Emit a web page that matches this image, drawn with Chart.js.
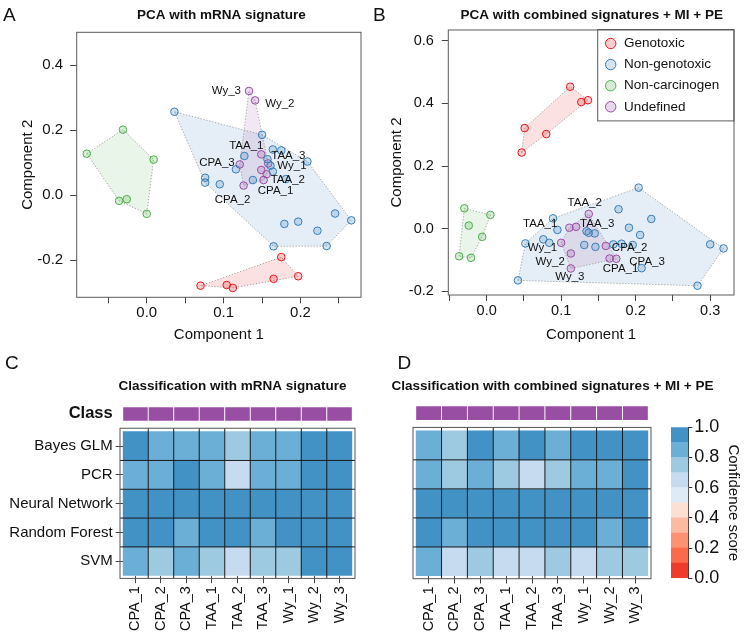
<!DOCTYPE html>
<html>
<head>
<meta charset="utf-8">
<title>PCA and classification of undefined compounds</title>
<script src="https://cdn.jsdelivr.net/npm/chart.js@4.4.1/dist/chart.umd.min.js"></script>
<style>
  html, body { margin: 0; padding: 0; background: #fff; }
  #page { position: relative; width: 745px; height: 636px; overflow: hidden; }
  .panel { position: absolute; }
  .panel canvas { display: block; }
</style>
</head>
<body>
<div id="page">
  <div class="panel" style="left:0;top:0"><canvas id="pcaA" width="372" height="350"></canvas></div>
  <div class="panel" style="left:372px;top:0"><canvas id="pcaB" width="373" height="350"></canvas></div>
  <div class="panel" style="left:0;top:350px"><canvas id="heatC" width="372" height="286"></canvas></div>
  <div class="panel" style="left:372px;top:350px"><canvas id="heatD" width="373" height="286"></canvas></div>
  <div class="panel" style="left:650px;top:350px"><canvas id="colorbar" width="95" height="286"></canvas></div>
</div>
<script>
// Compound groups
const groupNames = ['Genotoxic', 'Non-genotoxic', 'Non-carcinogen', 'Undefined'];
const groupColors = ['#E41A1C', '#377EB8', '#4DAF4A', '#984EA3'];

// Undefined samples (labelled on the PCA plots, columns of the heatmaps)
const sampleNames = ['CPA_1', 'CPA_2', 'CPA_3', 'TAA_1', 'TAA_2', 'TAA_3', 'Wy_1', 'Wy_2', 'Wy_3'];
const sampleClass = ['Undefined', 'Undefined', 'Undefined', 'Undefined', 'Undefined',
                     'Undefined', 'Undefined', 'Undefined', 'Undefined'];

// PCA with mRNA signature: [Component 1, Component 2]
const genotoxicA = [[0.070, -0.278], [0.104, -0.276], [0.112, -0.285], [0.175, -0.190],
                    [0.165, -0.257], [0.197, -0.249]];
const nonGenotoxicA = [[0.036, 0.257], [0.150, 0.186], [0.127, 0.121], [0.116, 0.080],
                       [0.076, 0.054], [0.076, 0.039], [0.095, 0.034], [0.138, 0.047],
                       [0.164, 0.141], [0.175, 0.138], [0.157, 0.111], [0.161, 0.091],
                       [0.164, 0.073], [0.181, 0.050], [0.209, 0.104], [0.245, -0.056],
                       [0.266, -0.077], [0.197, -0.081], [0.179, -0.088], [0.222, -0.109],
                       [0.165, -0.157], [0.234, -0.156]];
const nonCarcinogenA = [[-0.078, 0.128], [-0.031, 0.202], [0.009, 0.110], [-0.036, -0.017],
                        [-0.026, -0.012], [0.000, -0.057]];
const undefinedA = [[0.152, 0.047], [0.126, 0.030], [0.121, 0.095], [0.149, 0.126], [0.156, 0.065],
                    [0.158, 0.098], [0.149, 0.078], [0.141, 0.292], [0.133, 0.321]];

// PCA with combined signatures + MI + PE
const genotoxicB = [[0.112, 0.453], [0.127, 0.404], [0.136, 0.410], [0.051, 0.321],
                    [0.080, 0.302], [0.047, 0.243]];
const nonGenotoxicB = [[0.204, 0.131], [0.177, 0.062], [0.221, 0.031], [0.191, 0.003],
                       [0.206, -0.020], [0.300, -0.050], [0.318, -0.063], [0.283, -0.182],
                       [0.208, -0.126], [0.089, 0.033], [0.095, -0.004], [0.052, -0.047],
                       [0.076, -0.034], [0.084, -0.045], [0.042, -0.165], [0.134, -0.008],
                       [0.137, -0.013], [0.145, -0.015], [0.131, -0.052], [0.146, -0.058],
                       [0.170, -0.050], [0.181, -0.048], [0.196, -0.052]];
const nonCarcinogenB = [[-0.030, 0.065], [0.005, 0.044], [-0.024, 0.010], [-0.006, -0.026],
                        [-0.037, -0.088], [-0.021, -0.093]];
const undefinedB = [[0.165, -0.095], [0.160, -0.055], [0.174, -0.096], [0.111, 0.003], [0.137, 0.047],
                    [0.120, 0.006], [0.100, -0.045], [0.113, -0.079], [0.113, -0.127]];

// Axis ticks
const xTicksA = [-0.05, 0, 0.05, 0.1, 0.15, 0.2, 0.25];
const xLabelsA = [0, 0.1, 0.2];
const yTicksA = [-0.2, 0, 0.2, 0.4];
const xTicksB = [-0.05, 0, 0.05, 0.1, 0.15, 0.2, 0.25, 0.3];
const xLabelsB = [0, 0.1, 0.2, 0.3];
const yTicksB = [-0.2, 0, 0.2, 0.4, 0.6];

// Classification confidence scores (rows = methods, columns = samples)
const methods = ['Bayes GLM', 'PCR', 'Neural Network', 'Random Forest', 'SVM'];
const bayesC  = [0.94, 0.86, 0.87, 0.86, 0.76, 0.85, 0.84, 0.95, 0.94];
const pcrC    = [0.85, 0.86, 0.93, 0.85, 0.66, 0.86, 0.84, 0.94, 0.94];
const nnC     = [0.97, 0.96, 0.96, 0.97, 0.96, 0.96, 0.97, 0.98, 0.97];
const rfC     = [0.95, 0.93, 0.84, 0.94, 0.92, 0.86, 0.93, 0.95, 0.94];
const svmC    = [0.84, 0.75, 0.83, 0.76, 0.66, 0.74, 0.75, 0.93, 0.94];
const bayesD  = [0.86, 0.77, 0.94, 0.85, 0.93, 0.84, 0.93, 0.95, 0.94];
const pcrD    = [0.84, 0.76, 0.85, 0.76, 0.65, 0.77, 0.84, 0.83, 0.93];
const nnD     = [0.97, 0.96, 0.96, 0.97, 0.96, 0.96, 0.97, 0.97, 0.97];
const rfD     = [0.94, 0.86, 0.93, 0.95, 0.94, 0.93, 0.92, 0.85, 0.94];
const svmD    = [0.83, 0.66, 0.74, 0.65, 0.66, 0.76, 0.64, 0.75, 0.76];

// Colour scale of the confidence score
const scoreBins = [0, 0.1, 0.2, 0.3, 0.4, 0.5, 0.6, 0.7, 0.8, 0.9, 1.0];
const binColors = ['#EF3B2C', '#FB6A4A', '#FC9272', '#FCBBA1', '#FEE0D2',
                   '#DEEBF7', '#C6DBEF', '#9ECAE1', '#6BAED6', '#4292C6'];
const colorbarTicks = [0, 0.2, 0.4, 0.6, 0.8, 1.0];

// Layout: class strip sits above the score rows
const classBand = [5.375, 5.865];

const FONT = "'Liberation Sans', Arial, sans-serif";
Chart.defaults.font.family = FONT;
Chart.defaults.color = '#111';

function alpha(hex, a) {
  const n = parseInt(hex.slice(1), 16);
  return `rgba(${n >> 16}, ${(n >> 8) & 255}, ${n & 255}, ${a})`;
}

function scoreColor(s) {
  for (let i = 0; i < binColors.length; i++) {
    if (s < scoreBins[i + 1]) return binColors[i];
  }
  return binColors[binColors.length - 1];
}

// Convex hull (monotone chain) of pixel points
function convexHull(pts) {
  const p = pts.slice().sort((a, b) => a.x - b.x || a.y - b.y);
  if (p.length < 3) return p;
  const cross = (o, a, b) => (a.x - o.x) * (b.y - o.y) - (a.y - o.y) * (b.x - o.x);
  const lower = [];
  for (const q of p) {
    while (lower.length >= 2 && cross(lower[lower.length - 2], lower[lower.length - 1], q) <= 0) lower.pop();
    lower.push(q);
  }
  const upper = [];
  for (let i = p.length - 1; i >= 0; i--) {
    const q = p[i];
    while (upper.length >= 2 && cross(upper[upper.length - 2], upper[upper.length - 1], q) <= 0) upper.pop();
    upper.push(q);
  }
  lower.pop();
  upper.pop();
  return lower.concat(upper);
}

// Shaded hull behind each group
const hullPlugin = {
  id: 'hulls',
  beforeDatasetsDraw(chart) {
    const ctx = chart.ctx;
    ctx.save();
    chart.data.datasets.forEach((ds, i) => {
      const hull = convexHull(chart.getDatasetMeta(i).data.map(p => ({ x: p.x, y: p.y })));
      ctx.beginPath();
      hull.forEach((q, k) => (k ? ctx.lineTo(q.x, q.y) : ctx.moveTo(q.x, q.y)));
      ctx.closePath();
      ctx.fillStyle = ds.hullColor;
      ctx.fill();
      ctx.setLineDash([1.2, 1.8]);
      ctx.strokeStyle = '#9a9a9a';
      ctx.lineWidth = 0.9;
      ctx.stroke();
    });
    ctx.restore();
  }
};

// Names next to the undefined samples
function pointLabels(offsets) {
  return {
    id: 'pointLabels',
    afterDatasetsDraw(chart) {
      const ctx = chart.ctx;
      const pts = chart.getDatasetMeta(3).data;
      ctx.save();
      ctx.font = `11.5px ${FONT}`;
      ctx.fillStyle = '#111';
      ctx.textBaseline = 'middle';
      pts.forEach((p, i) => {
        const [dx, dy, align] = offsets[i];
        ctx.textAlign = align;
        ctx.fillText(sampleNames[i], p.x + dx, p.y + dy);
      });
      ctx.restore();
    }
  };
}

// Panel letters, titles and plot frame
function decor(texts, frame) {
  return {
    id: 'decor',
    afterDraw(chart) {
      const ctx = chart.ctx;
      const a = chart.chartArea;
      ctx.save();
      if (frame) {
        ctx.strokeStyle = '#5a5a5a';
        ctx.lineWidth = 1;
        ctx.strokeRect(a.left, a.top, a.right - a.left, a.bottom - a.top);
      }
      texts.forEach(t => {
        ctx.font = t.font;
        ctx.textAlign = t.align || 'center';
        ctx.textBaseline = 'middle';
        ctx.fillStyle = '#111';
        ctx.fillText(t.text, t.x, t.y);
      });
      ctx.restore();
    }
  };
}

// Legend box in the top right corner of panel B
const groupLegend = {
  id: 'groupLegend',
  afterDatasetsDraw(chart) {
    const ctx = chart.ctx;
    const a = chart.chartArea;
    const w = 136.3, h = 91.4;
    const x0 = a.right - w, y0 = a.top - 0.5;
    ctx.save();
    ctx.fillStyle = '#fff';
    ctx.fillRect(x0, y0, w, h);
    ctx.strokeStyle = '#5a5a5a';
    ctx.lineWidth = 1;
    ctx.strokeRect(x0, y0, w, h);
    ctx.font = `13.5px ${FONT}`;
    ctx.textAlign = 'left';
    ctx.textBaseline = 'middle';
    chart.data.datasets.forEach((ds, i) => {
      const cy = y0 + 14 + i * 21.1;
      ctx.beginPath();
      ctx.arc(x0 + 13, cy, 5.2, 0, Math.PI * 2);
      ctx.fillStyle = ds.backgroundColor;
      ctx.fill();
      ctx.strokeStyle = ds.borderColor;
      ctx.stroke();
      ctx.fillStyle = '#111';
      ctx.fillText(ds.label, x0 + 26.3, cy);
    });
    ctx.restore();
  }
};

function pcaChart(id, groups, cfg) {
  return new Chart(document.getElementById(id), {
    type: 'scatter',
    data: {
      datasets: groups.map((pts, i) => ({
        label: groupNames[i],
        data: pts.map(p => ({ x: p[0], y: p[1] })),
        pointRadius: 3.8,
        pointHoverRadius: 3.8,
        borderWidth: 1,
        borderColor: groupColors[i],
        backgroundColor: alpha(groupColors[i], 0.22),
        hullColor: alpha(groupColors[i], 0.13)
      }))
    },
    options: {
      responsive: false,
      animation: false,
      events: [],
      layout: { padding: cfg.padding },
      plugins: { legend: { display: false }, tooltip: { enabled: false } },
      scales: {
        x: {
          type: 'linear', min: cfg.x[0], max: cfg.x[1],
          afterBuildTicks: s => { s.ticks = cfg.xTicks.map(v => ({ value: v })); },
          afterFit: s => { s.height = cfg.xh; },
          ticks: {
            autoSkip: false, maxRotation: 0, padding: 1, color: '#111',
            font: { size: cfg.tickSize },
            callback: v => (cfg.xLabels.some(l => Math.abs(l - v) < 1e-9) ? v.toFixed(1) : '')
          },
          grid: { drawOnChartArea: false, tickLength: 6, tickColor: '#444' },
          border: { display: false },
          title: { display: true, text: 'Component 1', color: '#111', font: { size: 15 }, padding: { top: 0, bottom: 6 } }
        },
        y: {
          type: 'linear', min: cfg.y[0], max: cfg.y[1],
          afterBuildTicks: s => { s.ticks = cfg.yTicks.map(v => ({ value: v })); },
          afterFit: s => { s.width = cfg.yw; },
          ticks: { padding: cfg.yPad, color: '#111', font: { size: cfg.tickSize }, callback: v => v.toFixed(1) },
          grid: { drawOnChartArea: false, tickLength: 6.5, tickColor: '#444' },
          border: { display: false },
          title: { display: true, text: 'Component 2', color: '#111', font: { size: 15 }, padding: { top: cfg.yTitlePad, bottom: 0 } }
        }
      }
    },
    plugins: cfg.plugins
  });
}

// Panel A
pcaChart('pcaA', [genotoxicA, nonGenotoxicA, nonCarcinogenA, undefinedA], {
  padding: { left: 0, top: 32.3, right: 11, bottom: 0 },
  x: [-0.0911, 0.2787], y: [-0.3138, 0.5015],
  xTicks: xTicksA, xLabels: xLabelsA, yTicks: yTicksA,
  xh: 52.7, yw: 76.7, yPad: 7, yTitlePad: 19, tickSize: 15,
  plugins: [hullPlugin,
    pointLabels([[12, 11, 'center'], [-11, 14.5, 'center'], [-5, -2, 'right'], [-15, -9, 'center'], [4, 6, 'left'],
                 [3, -8, 'left'], [16, -4, 'left'], [10, 3, 'left'], [-8, 0, 'right']]),
    decor([
      { text: 'A', x: 3, y: 16, font: `19px ${FONT}`, align: 'left' },
      { text: 'PCA with mRNA signature', x: 221.3, y: 15, font: `bold 13.5px ${FONT}` }
    ], true)]
});

// Panel B
pcaChart('pcaB', [genotoxicB, nonGenotoxicB, nonCarcinogenB, undefinedB], {
  padding: { left: 0, top: 30, right: 11, bottom: 0 },
  x: [-0.0515, 0.332], y: [-0.2116, 0.634],
  xTicks: xTicksB, xLabels: xLabelsB, yTicks: yTicksB,
  xh: 55, yw: 76.3, yPad: 8, yTitlePad: 16, tickSize: 14.5,
  plugins: [hullPlugin,
    pointLabels([[11, 10.5, 'center'], [6, 2, 'left'], [13, 3.5, 'left'], [-12, -4, 'right'], [-4, -11, 'center'],
                 [4, -3, 'left'], [-4, 5, 'right'], [-6, 8.5, 'right'], [-1, 8.5, 'center']]),
    groupLegend,
    decor([
      { text: 'B', x: 1, y: 16, font: `19px ${FONT}`, align: 'left' },
      { text: 'PCA with combined signatures + MI + PE', x: 219.7, y: 15, font: `bold 13.5px ${FONT}` }
    ], true)]
});

// Black cell borders and grey frame of a heatmap
function heatGrid() {
  return {
    id: 'heatGrid',
    afterDatasetsDraw(chart) {
      const { ctx, chartArea: a, scales: { x, y } } = chart;
      const top = y.getPixelForValue(methods.length), bottom = y.getPixelForValue(0);
      const bx0 = a.left - 2.7, bx1 = a.right + 2.7, by0 = top - 3.4, by1 = bottom + 2.7;
      ctx.save();
      ctx.strokeStyle = '#1b1b1b';
      ctx.lineWidth = 1;
      ctx.beginPath();
      for (let i = 1; i < sampleNames.length; i++) {
        const px = (x.getPixelForValue(i - 1) + x.getPixelForValue(i)) / 2;
        ctx.moveTo(px, by0);
        ctx.lineTo(px, by1);
      }
      for (let k = 1; k < methods.length; k++) {
        const py = y.getPixelForValue(k);
        ctx.moveTo(bx0, py);
        ctx.lineTo(bx1, py);
      }
      ctx.stroke();
      ctx.strokeStyle = '#555';
      ctx.strokeRect(bx0, by0, bx1 - bx0, by1 - by0);
      ctx.restore();
    }
  };
}

function heatChart(id, rows, cfg) {
  const n = methods.length;
  const datasets = rows.map((scores, r) => ({
    label: methods[r],
    data: scores.map(() => [n - 1 - r, n - r]),
    backgroundColor: scores.map(scoreColor),
    borderWidth: 0,
    grouped: false, barPercentage: 1, categoryPercentage: 1
  }));
  datasets.push({
    label: 'Class',
    data: sampleClass.map(() => classBand),
    backgroundColor: sampleClass.map(c => groupColors[groupNames.indexOf(c)]),
    borderColor: 'rgba(255, 255, 255, 0.75)',
    borderWidth: 0.8,
    grouped: false, barPercentage: 1, categoryPercentage: 1
  });
  return new Chart(document.getElementById(id), {
    type: 'bar',
    data: { labels: sampleNames, datasets },
    options: {
      responsive: false,
      animation: false,
      events: [],
      layout: { padding: cfg.padding },
      plugins: { legend: { display: false }, tooltip: { enabled: false } },
      scales: {
        x: {
          type: 'category', offset: true,
          afterFit: s => { s.height = cfg.xh; },
          ticks: { autoSkip: false, minRotation: 90, maxRotation: 90, padding: 3, color: '#111', font: { size: 14.5 } },
          grid: { offset: false, drawOnChartArea: false, tickLength: 7.5, tickColor: '#444' },
          border: { display: false }
        },
        y: {
          type: 'linear', min: 0, max: classBand[1], display: cfg.showRows,
          afterBuildTicks: s => {
            s.ticks = methods.map((m, r) => ({ value: n - 0.5 - r }))
              .concat([{ value: (classBand[0] + classBand[1]) / 2 }]);
          },
          afterFit: s => { s.width = cfg.yw; },
          ticks: {
            padding: 3, color: '#111',
            font: c => (c.tick && c.tick.value > n ? { size: 16.5, weight: 'bold' } : { size: 15 }),
            callback: v => (v > n ? 'Class' : methods[Math.floor(n - v)])
          },
          grid: {
            drawOnChartArea: false, tickLength: 7,
            tickColor: c => (c.tick && c.tick.value > n ? 'rgba(0,0,0,0)' : '#444')
          },
          border: { display: false }
        }
      }
    },
    plugins: [heatGrid(), decor(cfg.texts, false)]
  });
}

// Panel C
heatChart('heatC', [bayesC, pcrC, nnC, rfC, svmC], {
  padding: { left: 0, top: 56.7, right: 19.7, bottom: 0 },
  xh: 60.3, yw: 122.7, showRows: true,
  texts: [
    { text: 'C', x: 5, y: 13.5, font: `19px ${FONT}`, align: 'left' },
    { text: 'Classification with mRNA signature', x: 232.5, y: 36.7, font: `bold 13.5px ${FONT}` }
  ]
});

// Panel D
heatChart('heatD', [bayesD, pcrD, nnD, rfD, svmD], {
  padding: { left: 43.7, top: 55.7, right: 96.7, bottom: 0 },
  xh: 60, yw: 0, showRows: false,
  texts: [
    { text: 'D', x: 25.5, y: 13.5, font: `19px ${FONT}`, align: 'left' },
    { text: 'Classification with combined signatures + MI + PE', x: 180.5, y: 36.7, font: `bold 13.5px ${FONT}` }
  ]
});

// Colour bar of the confidence score
new Chart(document.getElementById('colorbar'), {
  type: 'bar',
  data: {
    labels: [''],
    datasets: binColors.map((c, i) => ({
      label: scoreBins[i].toFixed(1),
      data: [[scoreBins[i], scoreBins[i + 1]]],
      backgroundColor: c,
      borderWidth: 0,
      grouped: false, barPercentage: 1, categoryPercentage: 1
    }))
  },
  options: {
    responsive: false,
    animation: false,
    events: [],
    layout: { padding: { left: 21, top: 77.3, right: 0, bottom: 57.7 } },
    plugins: { legend: { display: false }, tooltip: { enabled: false } },
    scales: {
      x: { display: false },
      y: {
        position: 'right', min: 0, max: 1,
        afterBuildTicks: s => { s.ticks = colorbarTicks.map(v => ({ value: v })); },
        afterFit: s => { s.width = 56.7; },
        ticks: { padding: 2, color: '#111', font: { size: 18 }, callback: v => v.toFixed(1) },
        grid: { drawOnChartArea: false, tickLength: 4, tickColor: '#333' },
        border: { display: true, color: '#333' },
        title: { display: true, text: 'Confidence score', color: '#111', font: { size: 15 }, padding: { top: 2.5, bottom: 0 } }
      }
    }
  }
});
</script>
</body>
</html>
